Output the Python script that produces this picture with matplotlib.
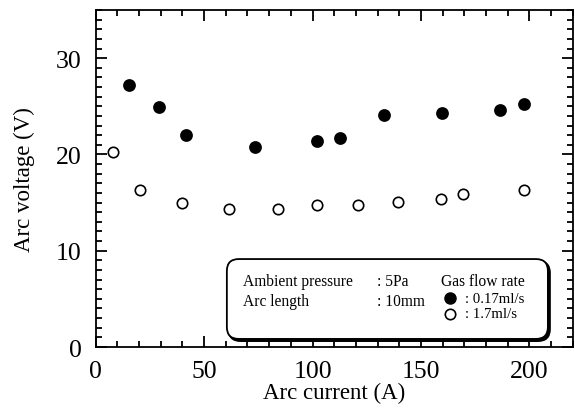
import matplotlib
matplotlib.use("Agg")
import matplotlib.pyplot as plt
from matplotlib.patches import FancyBboxPatch

plt.rcParams['font.family'] = ['Liberation Serif', 'DejaVu Serif']

# Data
current_017 = [15.5, 29.3, 41.5, 73.4, 102.1, 112.6, 132.9, 159.9, 186.3, 197.5]
voltage_017 = [27.2, 24.9, 22.0, 20.8, 21.4, 21.7, 24.1, 24.3, 24.6, 25.2]
current_17 = [8.1, 20.4, 39.8, 61.6, 84.1, 102.3, 121.0, 139.6, 159.4, 169.4, 197.5]
voltage_17 = [20.3, 16.3, 15.0, 14.3, 14.3, 14.7, 14.8, 15.1, 15.4, 15.9, 16.3]
xticks = [0, 50, 100, 150, 200]
yticks = [0, 10, 20, 30]

fig = plt.figure(figsize=(5.75, 4.14), dpi=100)
ax = fig.add_axes([0.1664, 0.1594, 0.8296, 0.814])

ax.plot(current_017, voltage_017, 'o', ms=8, mfc='black', mec='black', mew=1.2, ls='none', zorder=3)
ax.plot(current_17, voltage_17, 'o', ms=7.5, mfc='white', mec='black', mew=1.2, ls='none', zorder=3)

ax.set_xlim(0, 220)
ax.set_ylim(0, 35)
ax.set_xticks(xticks)
ax.set_yticks(yticks)
ax.set_xticks(range(0, 221, 10), minor=True)
ax.set_yticks(range(0, 36, 1), minor=True)
ax.tick_params(which='both', direction='in', top=True, right=True, width=1.3, labelsize=18.5)
ax.tick_params(which='major', length=8)
ax.tick_params(axis='x', which='major', pad=9)
ax.tick_params(axis='y', which='major', pad=10)
ax.tick_params(which='minor', length=4.5)
for s in ax.spines.values():
    s.set_linewidth(1.3)

ax.set_xlabel('Arc current (A)', fontsize=16.5, labelpad=0)
ax.set_ylabel('Arc voltage (V)', fontsize=16.5, labelpad=15)

# Legend-like annotation box
tr = ax.transAxes
x0, y0, x1, y1 = 0.275, 0.024, 0.948, 0.261
shadow = FancyBboxPatch((x0 + 0.004, y0 - 0.006), x1 - x0, y1 - y0,
                        boxstyle='round,pad=0,rounding_size=0.025', transform=tr,
                        fc='black', ec='black', lw=1.5, zorder=4, mutation_aspect=477/337)
box = FancyBboxPatch((x0, y0), x1 - x0, y1 - y0,
                     boxstyle='round,pad=0,rounding_size=0.025', transform=tr,
                     fc='white', ec='black', lw=1.3, zorder=5, mutation_aspect=477/337)
ax.add_patch(shadow)
ax.add_patch(box)

fs = 11.2
ax.text(0.308, 0.196, 'Ambient pressure', transform=tr, fontsize=fs, va='center', zorder=6)
ax.text(0.308, 0.137, 'Arc length', transform=tr, fontsize=fs, va='center', zorder=6)
ax.text(0.589, 0.196, ': 5Pa', transform=tr, fontsize=fs, va='center', zorder=6)
ax.text(0.589, 0.137, ': 10mm', transform=tr, fontsize=fs, va='center', zorder=6)
ax.text(0.723, 0.195, 'Gas flow rate', transform=tr, fontsize=fs, va='center', zorder=6)
ax.plot([0.743], [0.144], 'o', ms=8, mfc='black', mec='black', transform=tr, zorder=6, clip_on=False)
ax.plot([0.743], [0.098], 'o', ms=7.5, mfc='white', mec='black', mew=1.2, transform=tr, zorder=6, clip_on=False)
ax.text(0.774, 0.144, ': 0.17ml/s', transform=tr, fontsize=10.6, va='center', zorder=6)
ax.text(0.774, 0.098, ': 1.7ml/s', transform=tr, fontsize=10.6, va='center', zorder=6)

fig.savefig('out.png', dpi=100)
